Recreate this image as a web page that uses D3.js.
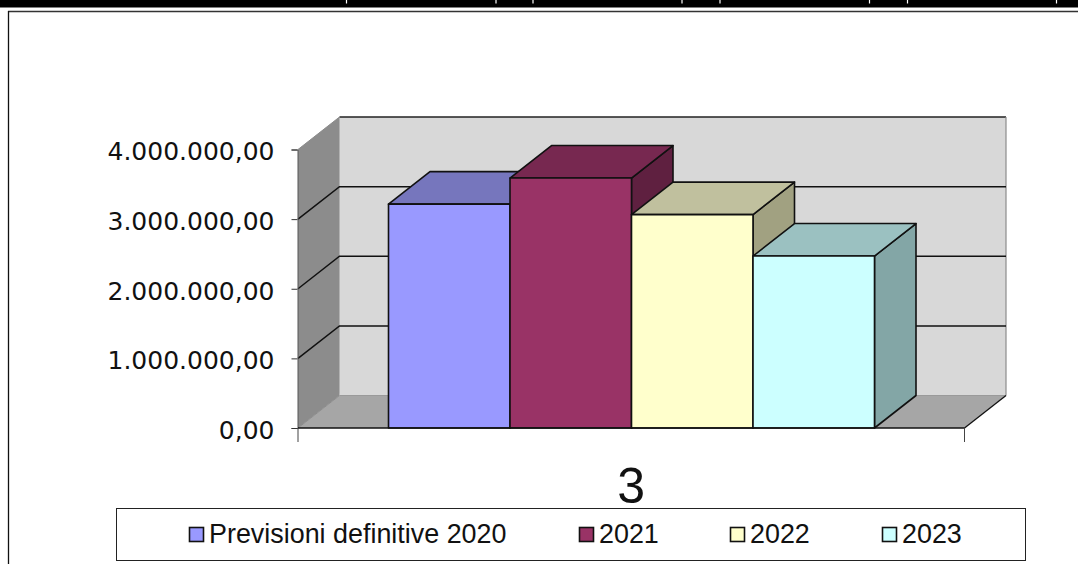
<!DOCTYPE html>
<html><head><meta charset="utf-8">
<script src="https://cdn.jsdelivr.net/npm/d3@7/dist/d3.min.js"></script>
<style>html,body{margin:0;padding:0;background:#fff}svg{display:block}</style>
</head><body><svg id="c" width="1078" height="564"></svg>
<script>
const seriesNames = ["Previsioni definitive 2020","2021","2022","2023"];
const seriesValues = [3215000,3590000,3065000,2470000];
const category = ["3"];
const tickValues = [0,1000000,2000000,3000000,4000000];
const tickLabels = ["0,00","1.000.000,00","2.000.000,00","3.000.000,00","4.000.000,00"];
const frontColors = ["#9999ff","#993366","#ffffcc","#ccffff"];
const topColors = ["#7676bd","#772850","#c0c09e","#9bc1c1"];
const sideColors = ["#5c5c99","#5f2040","#a1a181","#83a6a6"];
const topSeparators = [346.5,496,533,682,720,869.5,907.5,1056.5];

const svg = d3.select("#c");
const W = 1078, H = 564;
const dx = 41.5, dy = -32.5;
const y = d3.scaleLinear().domain([0,4000000]).range([428,149.5]);
const xCat = d3.scaleBand().domain(category).range([298,964.5]);
const x0 = xCat(category[0]), x1 = x0 + xCat.bandwidth();
const xBar = d3.scaleBand().domain(seriesNames).range([388.5,874.5]);
const poly = p => p.map(d=>d.join(",")).join(" ");

// page frame
svg.append("rect").attr("x",0).attr("y",0).attr("width",W).attr("height",7.5).attr("fill","#000");
svg.selectAll("line.sep").data(topSeparators).join("line").attr("class","sep")
  .attr("x1",d=>d).attr("x2",d=>d).attr("y1",0).attr("y2",3.5).attr("stroke","#fff").attr("stroke-width",1.2);
svg.append("line").attr("x1",8).attr("x2",W).attr("y1",11.5).attr("y2",11.5).attr("stroke","#333").attr("stroke-width",1.3);
svg.append("line").attr("x1",8.5).attr("x2",8.5).attr("y1",11).attr("y2",H).attr("stroke","#111").attr("stroke-width",1.3);

// walls
const yTop = y(4000000), yBase = y(0);
svg.append("polygon").attr("points",poly([[x0,yTop],[x0+dx,yTop+dy],[x1+dx,yTop+dy],[x1+dx,yBase+dy],[x0+dx,yBase+dy]]))
  .attr("fill","#d8d8d8");
svg.append("polygon").attr("points",poly([[x0,yTop],[x0+dx,yTop+dy],[x0+dx,yBase+dy],[x0,yBase]])).attr("fill","#8c8c8c");
svg.append("polygon").attr("points",poly([[x0,yBase],[x0+dx,yBase+dy],[x1+dx,yBase+dy],[x1,yBase]])).attr("fill","#a6a6a6");
// wall edges
svg.append("line").attr("x1",x0+dx).attr("x2",x1+dx).attr("y1",yTop+dy).attr("y2",yTop+dy).attr("stroke","#222").attr("stroke-width",1.3);
svg.append("line").attr("x1",x1+dx).attr("x2",x1+dx).attr("y1",yTop+dy).attr("y2",yBase+dy).attr("stroke","#8c8c8c").attr("stroke-width",1.2);
svg.append("line").attr("x1",x0).attr("x2",x0+dx).attr("y1",yTop).attr("y2",yTop+dy).attr("stroke","#8c8c8c");
svg.append("line").attr("x1",x0).attr("x2",x0+dx).attr("y1",yBase).attr("y2",yBase+dy).attr("stroke","#8c8c8c");
svg.append("line").attr("x1",x0+dx).attr("x2",x1+dx).attr("y1",yBase+dy).attr("y2",yBase+dy).attr("stroke","#9a9a9a");
svg.append("line").attr("x1",x1).attr("x2",x1+dx).attr("y1",yBase).attr("y2",yBase+dy).attr("stroke","#111").attr("stroke-width",1.3);

// gridlines
tickValues.slice(1,-1).forEach(v=>{
  svg.append("polyline").attr("points",poly([[x0,y(v)],[x0+dx,y(v)+dy],[x1+dx,y(v)+dy]]))
    .attr("fill","none").attr("stroke","#111").attr("stroke-width",1.5);
});

// y axis
const yAxis = d3.axisLeft(y).tickValues(tickValues).tickSize(6).tickPadding(17)
  .tickFormat((d,i)=>tickLabels[i]);
const gy = svg.append("g").attr("transform",`translate(${x0-0.5},0)`).call(yAxis);
gy.select(".domain").attr("stroke","#555").attr("stroke-width",1);
gy.selectAll(".tick line").attr("stroke","#333");
gy.selectAll("text").attr("font-family","'DejaVu Sans'").attr("font-size",25).attr("fill","#111").attr("dy","0.41em");

// bars
const bars = svg.append("g").selectAll("g").data(seriesNames).join("g");
bars.each(function(name,i){
  const g = d3.select(this), L = xBar(name), R = L + xBar.bandwidth(), T = y(seriesValues[i]), B = y(0);
  const st = {stroke:"#111","stroke-width":1.6,"stroke-linejoin":"round"};
  const add = (pts,fill)=>{const e=g.append("polygon").attr("points",poly(pts)).attr("fill",fill);
    Object.entries(st).forEach(([k,v])=>e.attr(k,v));};
  add([[R,T],[R+dx,T+dy],[R+dx,B+dy],[R,B]],sideColors[i]);
  add([[L,T],[L+dx,T+dy],[R+dx,T+dy],[R,T]],topColors[i]);
  add([[L,T],[R,T],[R,B],[L,B]],frontColors[i]);
});

// base line and x axis ticks
svg.append("line").attr("x1",x0).attr("x2",x1).attr("y1",yBase).attr("y2",yBase).attr("stroke","#111").attr("stroke-width",1.6);
[x0,x1].forEach(v=>svg.append("line").attr("x1",v).attr("x2",v).attr("y1",yBase).attr("y2",yBase+14).attr("stroke","#444").attr("stroke-width",1));

// category label
svg.append("text").attr("x",xCat(category[0])+xCat.bandwidth()/2).attr("y",503)
  .attr("text-anchor","middle").attr("font-family","'Liberation Sans'").attr("font-size",50).attr("fill","#111").text(category[0]);

// legend
svg.append("rect").attr("x",116.5).attr("y",508.5).attr("width",909).attr("height",52)
  .attr("fill","#fff").attr("stroke","#222").attr("stroke-width",1);
const legendX = d3.scaleOrdinal().domain(seriesNames).range([189,579,730,882]);
const lg = svg.append("g").selectAll("g").data(seriesNames).join("g");
lg.append("rect").attr("x",d=>legendX(d)+0.5).attr("y",527.5).attr("width",14).attr("height",14)
  .attr("fill",(d,i)=>frontColors[i]).attr("stroke","#111").attr("stroke-width",1.6);
lg.append("text").attr("x",d=>legendX(d)+20).attr("y",543)
  .attr("font-family","'Liberation Sans'").attr("font-size",26.9).attr("fill","#111").text(d=>d);
</script></body></html>
